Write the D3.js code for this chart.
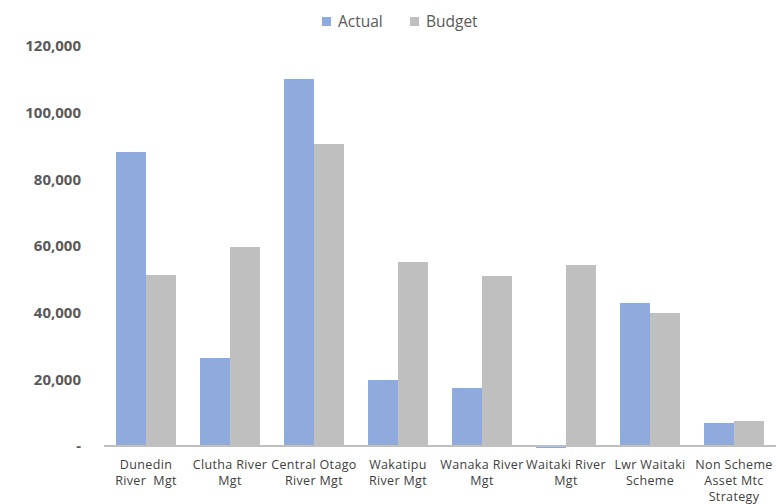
<!DOCTYPE html>
<html><head><meta charset="utf-8">
<script src="https://cdn.jsdelivr.net/npm/d3@7"></script>
<style>body{margin:0;background:#fff;} svg{display:block;font-family:"Open Sans",sans-serif;}</style>
</head><body><svg id="c" width="776" height="504"></svg>
<script>
const categories = ["Dunedin\nRiver  Mgt","Clutha River\nMgt","Central Otago\nRiver Mgt","Wakatipu\nRiver Mgt","Wanaka River\nMgt","Waitaki River\nMgt","Lwr Waitaki\nScheme","Non Scheme\nAsset Mtc\nStrategy"];
const seriesNames = ["Actual","Budget"];
const actual = [88200, 26400, 110100, 19800, 17400, -600, 42900, 6900];
const budget = [51300, 59700, 90600, 55200, 51000, 54300, 39900, 7500];
const yTicks = [0,20000,40000,60000,80000,100000,120000];
const colors = ["#8faadc","#bfbfbf"];

const svg = d3.select("#c");
const L=104, R=776, T=46, B=446;
const x0 = d3.scaleBand().domain(categories).range([L,R]).padding(0);
const x1 = d3.scaleBand().domain(seriesNames).range([12, x0.bandwidth()-12]).padding(0);
const y = d3.scaleLinear().domain([0,120000]).range([B,T]);
const color = d3.scaleOrdinal().domain(seriesNames).range(colors);

// y axis labels
const fmt = d3.format(",");
svg.append("g").selectAll("text").data(yTicks).join("text")
  .attr("x",81).attr("y",d=>y(d)).attr("dy","0.35em").attr("text-anchor","end")
  .attr("font-size",15).attr("font-weight","bold").attr("fill","#595959")
  .text(d=>d===0?"-":fmt(d));

// bars
const data = categories.map((c,i)=>({c, vals:[{s:"Actual",v:actual[i]},{s:"Budget",v:budget[i]}]}));
const g = svg.append("g");
g.selectAll("g").data(data).join("g").attr("transform",d=>`translate(${x0(d.c)},0)`)
 .selectAll("rect").data(d=>d.vals).join("rect")
 .attr("x",d=>x1(d.s)).attr("width",x1.bandwidth())
 .attr("y",d=>y(Math.max(0,d.v))).attr("height",d=>Math.abs(y(d.v)-y(0)))
 .attr("fill",d=>color(d.s));

// x axis line
svg.append("line").attr("x1",L).attr("x2",R).attr("y1",B).attr("y2",B)
  .attr("stroke","#bfbfbf").attr("stroke-width",2);

// x labels
const xl = svg.append("g").selectAll("text").data(categories).join("text")
  .attr("x",d=>x0(d)+x0.bandwidth()/2).attr("y",469).attr("text-anchor","middle")
  .attr("font-size",12.5).attr("letter-spacing",0.35).attr("fill","#404040");
xl.each(function(d){
  const t=d3.select(this);
  d.split("\n").forEach((line,i)=>{
    t.append("tspan").attr("x",x0(d)+x0.bandwidth()/2).attr("dy",i===0?0:16).attr("xml:space","preserve").text(line);
  });
});

// legend
const leg = svg.append("g");
const lx=[322,410];
seriesNames.forEach((s,i)=>{
  leg.append("rect").attr("x",lx[i]).attr("y",17).attr("width",9).attr("height",9).attr("fill",color(s));
  leg.append("text").attr("x",lx[i]+16).attr("y",27).attr("font-size",15.5).attr("fill","#595959").text(s);
});
</script></body></html>
